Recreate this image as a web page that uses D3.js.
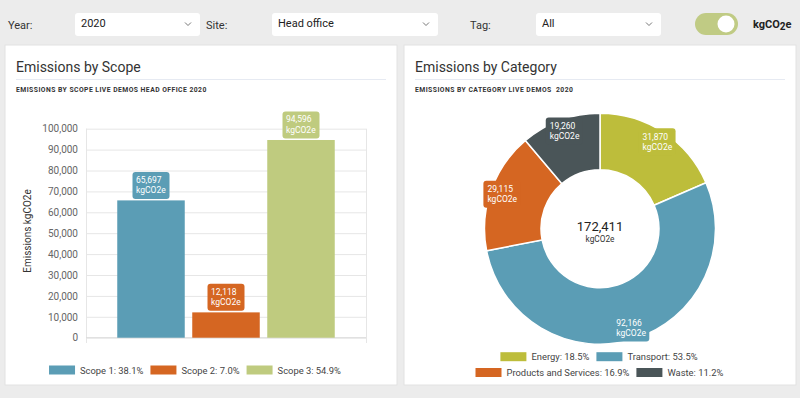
<!DOCTYPE html>
<html>
<head>
<meta charset="utf-8">
<script src="https://cdn.jsdelivr.net/npm/d3@7"></script>
<style>
  html, body { margin: 0; padding: 0; background: #ececec; }
  svg { display: block; font-family: Roboto, "Open Sans", sans-serif; }
</style>
</head>
<body>
<div id="chart"></div>
<script>
// data
var scopeNames = ["Scope 1", "Scope 2", "Scope 3"];
var scopeValues = [65697, 12118, 94596];
var yTickValues = [0, 10000, 20000, 30000, 40000, 50000, 60000, 70000, 80000, 90000, 100000];

var categoryNames = ["Energy", "Transport", "Products and Services", "Waste"];
var categoryValues = [31870, 92166, 29115, 19260];

var filterLabels = ["Year:", "Site:", "Tag:"];
var filterValues = ["2020", "Head office", "All"];

var scopeColors = ["#5b9db5", "#d56622", "#bfcb7f"];
var categoryColors = ["#bdbd3b", "#5b9db5", "#d56622", "#4a5558"];

var svgWidth = 800;
var svgHeight = 398;

var svg = d3.select("#chart")
  .append("svg")
  .attr("width", svgWidth)
  .attr("height", svgHeight);

var fmt = d3.format(",");
var pct = d3.format(".1f");

// ---- top filter bar ----
var labelX = [8, 206, 470];
var boxX = [75, 272, 536];
var boxW = [125, 166, 125];

filterLabels.forEach(function(lbl, i) {
  svg.append("text")
    .attr("x", labelX[i]).attr("y", 29)
    .attr("font-size", 11).attr("fill", "#333")
    .text(lbl);
  svg.append("rect")
    .attr("x", boxX[i]).attr("y", 13)
    .attr("width", boxW[i]).attr("height", 23)
    .attr("rx", 3).attr("fill", "#fff");
  svg.append("text")
    .attr("x", boxX[i] + 6).attr("y", 27)
    .attr("font-size", 11).attr("fill", "#222")
    .text(filterValues[i]);
  var cx = boxX[i] + boxW[i] - 12;
  svg.append("path")
    .attr("d", "M" + (cx - 3) + ",22.5L" + cx + ",25.5L" + (cx + 3) + ",22.5")
    .attr("fill", "none").attr("stroke", "#666").attr("stroke-width", 0.9);
});

// toggle
svg.append("rect")
  .attr("x", 695).attr("y", 13).attr("width", 43).attr("height", 22)
  .attr("rx", 11).attr("fill", "#c0cb84");
svg.append("circle")
  .attr("cx", 726).attr("cy", 24).attr("r", 8.5).attr("fill", "#fff");
var unit = svg.append("text")
  .attr("x", 753).attr("y", 28)
  .attr("font-size", 11).attr("font-weight", "bold").attr("fill", "#222");
unit.append("tspan").text("kgCO");
unit.append("tspan").attr("dy", 2).attr("font-size", 10).text("2");
unit.append("tspan").attr("dy", -2).text("e");

// ---- panels ----
function panel(x, w, title, subtitle) {
  svg.append("rect")
    .attr("x", x).attr("y", 45).attr("width", w).attr("height", 340)
    .attr("fill", "#fff").attr("stroke", "#e2e2e2");
  svg.append("text")
    .attr("x", x + 11).attr("y", 71.5)
    .attr("font-size", 14).attr("fill", "#333")
    .text(title);
  svg.append("line")
    .attr("x1", x + 11).attr("x2", x + w - 11)
    .attr("y1", 79.5).attr("y2", 79.5)
    .attr("stroke", "#e6eaf2");
  svg.append("text")
    .attr("x", x + 11).attr("y", 92)
    .attr("font-size", 6.8).attr("font-weight", "bold")
    .attr("letter-spacing", 0.45).attr("fill", "#333")
    .style("white-space", "pre")
    .text(subtitle);
}
panel(5, 392, "Emissions by Scope", "EMISSIONS BY SCOPE LIVE DEMOS HEAD OFFICE 2020");
panel(404, 392, "Emissions by Category", "EMISSIONS BY CATEGORY LIVE DEMOS  2020");

// ---- bar chart ----
var plotLeft = 86, plotRight = 366;
var yScale = d3.scaleLinear().domain([0, 100000]).range([337.7, 128.7]);
var xScale = d3.scaleBand()
  .domain(scopeNames)
  .range([plotLeft, plotRight])
  .paddingInner(0.1)
  .paddingOuter(0.4167);

var yAxis = d3.axisLeft(yScale)
  .tickValues(yTickValues)
  .tickFormat(fmt)
  .tickSizeInner(-(plotRight - plotLeft))
  .tickSizeOuter(0)
  .tickPadding(8);

var yAxisG = svg.append("g")
  .attr("transform", "translate(" + plotLeft + ",0)")
  .call(yAxis);
yAxisG.select(".domain").remove();
yAxisG.selectAll(".tick line").attr("stroke", "#e6e6e6");
yAxisG.selectAll(".tick text")
  .attr("font-size", 10).attr("fill", "#666")
  .attr("font-family", "Roboto, sans-serif");

// x axis edges
[plotLeft, plotRight].forEach(function(x) {
  svg.append("line")
    .attr("x1", x + 0.5).attr("x2", x + 0.5)
    .attr("y1", yScale(100000)).attr("y2", 343)
    .attr("stroke", "#e6e6e6");
});
svg.append("line")
  .attr("x1", plotLeft).attr("x2", plotRight)
  .attr("y1", yScale(0)).attr("y2", yScale(0))
  .attr("stroke", "#dcdcdc");

svg.append("text")
  .attr("transform", "translate(31,231) rotate(-90)")
  .attr("text-anchor", "middle")
  .attr("font-size", 10).attr("fill", "#333")
  .text("Emissions kgCO2e");

svg.selectAll(".bar")
  .data(scopeValues)
  .enter()
  .append("rect")
  .attr("class", "bar")
  .attr("x", function(d, i) { return xScale(scopeNames[i]); })
  .attr("y", function(d) { return yScale(d); })
  .attr("width", xScale.bandwidth())
  .attr("height", function(d) { return yScale(0) - yScale(d); })
  .attr("fill", function(d, i) { return scopeColors[i]; });

// value tags above bars
function valueTag(cx, bottom, value, color) {
  var g = svg.append("g");
  g.append("rect")
    .attr("x", cx - 18.5).attr("y", bottom - 27)
    .attr("width", 37).attr("height", 27)
    .attr("rx", 3).attr("fill", color);
  g.append("text")
    .attr("x", cx - 15).attr("y", bottom - 16)
    .attr("font-size", 8.5).attr("fill", "#fff")
    .text(fmt(value));
  g.append("text")
    .attr("x", cx - 15).attr("y", bottom - 5.5)
    .attr("font-size", 8.5).attr("fill", "#fff")
    .text("kgCO2e");
}
scopeValues.forEach(function(v, i) {
  valueTag(xScale(scopeNames[i]) + xScale.bandwidth() / 2, yScale(v) - 1.5, v, scopeColors[i]);
});

// legend helper: rows of items centered at cx
function legendRow(items, cx, y) {
  var g = svg.append("g");
  var x = 0;
  items.forEach(function(it) {
    g.append("rect")
      .attr("x", x).attr("y", y - 4.5)
      .attr("width", 26).attr("height", 9)
      .attr("fill", it.color);
    var t = g.append("text")
      .attr("x", x + 31).attr("y", y + 3.5)
      .attr("font-size", 9.4).attr("fill", "#444")
      .text(it.label);
    x += 31 + t.node().getComputedTextLength() + 7;
  });
  var w = x - 7;
  g.attr("transform", "translate(" + (cx - w / 2) + ",0)");
}

var scopeTotal = d3.sum(scopeValues);
legendRow(scopeNames.map(function(n, i) {
  return { label: n + ": " + pct(scopeValues[i] / scopeTotal * 100) + "%", color: scopeColors[i] };
}), 195, 370);

// ---- donut ----
var cx = 600, cy = 228.7, outerR = 115.5, innerR = 59;
var total = d3.sum(categoryValues);
var pie = d3.pie().sort(null).value(function(d) { return d; });
var arcs = pie(categoryValues);
var arc = d3.arc().innerRadius(innerR).outerRadius(outerR);

var donut = svg.append("g").attr("transform", "translate(" + cx + "," + cy + ")");
donut.selectAll("path")
  .data(arcs)
  .enter()
  .append("path")
  .attr("d", arc)
  .attr("fill", function(d, i) { return categoryColors[i]; })
  .attr("stroke", "#fff")
  .attr("stroke-width", 1.5);

var labelArc = d3.arc().innerRadius(104).outerRadius(104);
arcs.forEach(function(a, i) {
  var c = labelArc.centroid(a);
  var g = donut.append("g").attr("transform", "translate(" + c[0] + "," + c[1] + ")");
  g.append("rect")
    .attr("x", -18.5).attr("y", -13.5).attr("width", 37).attr("height", 27)
    .attr("rx", 3).attr("fill", categoryColors[i]);
  g.append("text")
    .attr("x", -14.5).attr("y", -2)
    .attr("font-size", 8.5).attr("fill", "#fff")
    .text(fmt(categoryValues[i]));
  g.append("text")
    .attr("x", -14.5).attr("y", 8)
    .attr("font-size", 8.5).attr("fill", "#fff")
    .text("kgCO2e");
});

donut.append("text")
  .attr("text-anchor", "middle").attr("y", 2)
  .attr("font-size", 13).attr("fill", "#222")
  .text(fmt(total));
donut.append("text")
  .attr("text-anchor", "middle").attr("y", 13)
  .attr("font-size", 8.3).attr("fill", "#333")
  .text("kgCO2e");

function catItem(i) {
  return { label: categoryNames[i] + ": " + pct(categoryValues[i] / total * 100) + "%", color: categoryColors[i] };
}
legendRow([catItem(0), catItem(1)], 599, 356.7);
legendRow([catItem(2), catItem(3)], 599.4, 372.5);
</script>
</body>
</html>
